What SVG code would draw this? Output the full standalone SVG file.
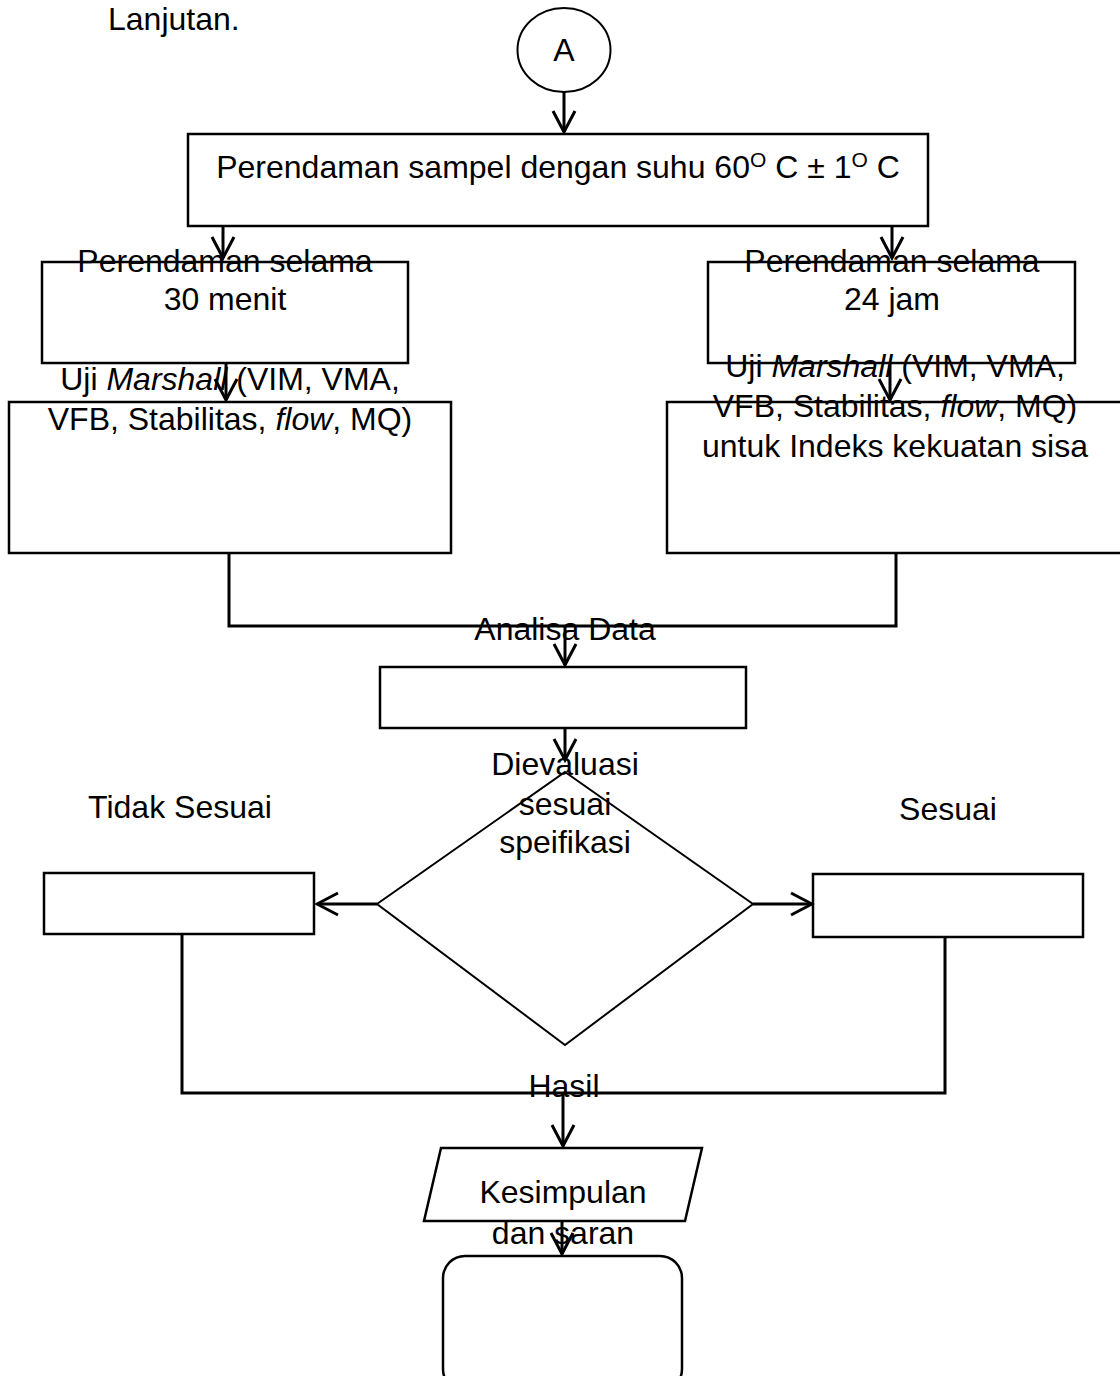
<svg xmlns="http://www.w3.org/2000/svg" width="1120" height="1376" viewBox="0 0 1120 1376">
<style>
.n{fill:none;stroke:#000;stroke-width:2.5}
.d{fill:none;stroke:#000;stroke-width:2}
.c{fill:none;stroke:#000;stroke-width:3}
.t{font-family:"Liberation Sans",Arial,sans-serif;font-size:32px;fill:#000;text-anchor:middle}
.s{font-family:"Liberation Sans",Arial,sans-serif;font-size:32px;fill:#000}
</style>
<defs>
<marker id="ah" markerUnits="userSpaceOnUse" markerWidth="26" markerHeight="26" viewBox="0 0 26 26" refX="23" refY="13" orient="auto">
<path d="M2,2 L23,13 L2,24" fill="none" stroke="#000" stroke-width="3"/>
</marker>
</defs>
<rect width="1120" height="1376" fill="#fff"/>
<text class="s" x="108" y="30">Lanjutan.</text>
<g id="connectors">
<line class="c" x1="564" y1="92" x2="564" y2="132" marker-end="url(#ah)"/>
<line class="c" x1="223" y1="226" x2="223" y2="258" marker-end="url(#ah)"/>
<line class="c" x1="892" y1="226" x2="892" y2="258" marker-end="url(#ah)"/>
<line class="c" x1="226" y1="363" x2="226" y2="400" marker-end="url(#ah)"/>
<line class="c" x1="890" y1="363" x2="890" y2="400" marker-end="url(#ah)"/>
<polyline class="c" points="229,553 229,626 896,626 896,553"/>
<line class="c" x1="565" y1="626" x2="565" y2="665" marker-end="url(#ah)"/>
<line class="c" x1="565" y1="728" x2="565" y2="760" marker-end="url(#ah)"/>
<line class="c" x1="377" y1="904" x2="317" y2="904" marker-end="url(#ah)"/>
<line class="c" x1="753" y1="904" x2="812" y2="904" marker-end="url(#ah)"/>
<polyline class="c" points="182,934 182,1093 945,1093 945,937"/>
<line class="c" x1="563" y1="1093" x2="563" y2="1146" marker-end="url(#ah)"/>
<line class="c" x1="562" y1="1221" x2="562" y2="1254" marker-end="url(#ah)"/>
</g>
<g id="start">
<ellipse class="d" cx="564" cy="50" rx="46.5" ry="42"/>
<text class="t" x="564" y="61">A</text>
</g>
<g id="perendaman">
<rect class="n" x="188" y="134" width="740" height="92"/>
<text class="t" x="558" y="178">Perendaman sampel dengan suhu 60<tspan font-size="21" dy="-11">O</tspan><tspan dy="11"> C ± 1</tspan><tspan font-size="21" dy="-11">O</tspan><tspan dy="11"> C</tspan></text>
</g>
<g id="rendam30">
<rect class="n" x="42" y="262" width="366" height="101"/>
<text class="t" x="225" y="272">Perendaman selama</text>
<text class="t" x="225" y="310">30 menit</text>
</g>
<g id="rendam24">
<rect class="n" x="708" y="262" width="367" height="101"/>
<text class="t" x="892" y="272">Perendaman selama</text>
<text class="t" x="892" y="310">24 jam</text>
</g>
<g id="uji30">
<rect class="n" x="9" y="402" width="442" height="151"/>
<text class="t" x="230" y="390">Uji <tspan font-style="italic">Marshall</tspan> (VIM, VMA,</text>
<text class="t" x="230" y="430">VFB, Stabilitas, <tspan font-style="italic">flow</tspan>, MQ)</text>
</g>
<g id="uji24">
<rect class="n" x="667" y="402" width="470" height="151"/>
<text class="t" x="895" y="377">Uji <tspan font-style="italic">Marshall</tspan> (VIM, VMA,</text>
<text class="t" x="895" y="417">VFB, Stabilitas, <tspan font-style="italic">flow</tspan>, MQ)</text>
<text class="t" x="895" y="457">untuk Indeks kekuatan sisa</text>
</g>
<g id="analisa">
<text class="t" x="565" y="640">Analisa Data</text>
<rect class="n" x="380" y="667" width="366" height="61"/>
</g>
<g id="evaluasi">
<polygon class="d" points="565,772 753,904 565,1045 377,904"/>
<text class="t" x="565" y="775">Dievaluasi</text>
<text class="t" x="565" y="815">sesuai</text>
<text class="t" x="565" y="853">speifikasi</text>
</g>
<g id="tidak">
<text class="t" x="180" y="818">Tidak Sesuai</text>
<rect class="n" x="44" y="873" width="270" height="61"/>
</g>
<g id="sesuai">
<text class="t" x="948" y="820">Sesuai</text>
<rect class="n" x="813" y="874" width="270" height="63"/>
</g>
<g id="hasil">
<text class="t" x="564" y="1097">Hasil</text>
</g>
<g id="kesimpulan">
<polygon class="n" points="441,1148 702,1148 685,1221 424,1221"/>
<text class="t" x="563" y="1203">Kesimpulan</text>
<text class="t" x="563" y="1244">dan saran</text>
</g>
<g id="end">
<rect class="n" x="443" y="1256" width="239" height="135" rx="22" ry="22"/>
</g>
</svg>
